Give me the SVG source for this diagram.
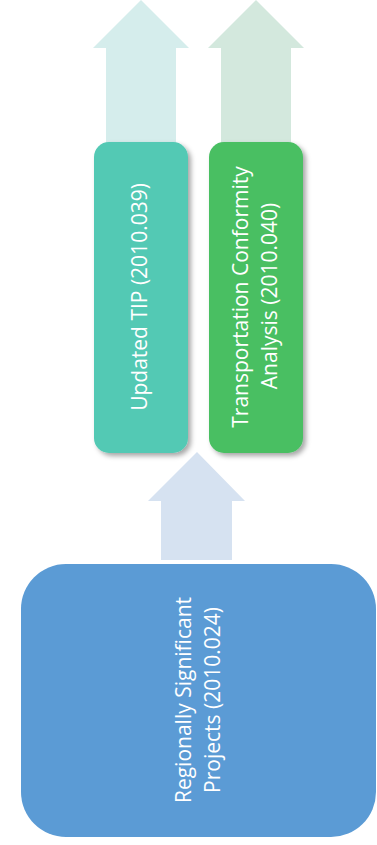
<svg xmlns="http://www.w3.org/2000/svg" width="377" height="845" viewBox="0 0 377 845">
<style>
.lbl{font-family:"Open Sans","Liberation Sans",sans-serif;font-size:21px;fill:#ffffff;text-anchor:middle}
</style>
<defs>
<filter id="sh" x="-20%" y="-10%" width="140%" height="120%">
<feDropShadow dx="3" dy="3" stdDeviation="2.5" flood-color="#000" flood-opacity="0.35"/>
</filter>
</defs>
<rect width="377" height="845" fill="#ffffff"/>
<g id="connectors">
<polygon points="141,0 189,48 176,48 176,150 106,150 106,48 93,48" fill="#D5EDEC"/>
<polygon points="256,0 304,48 291,48 291,150 221,150 221,48 208,48" fill="#D3E8DD"/>
<polygon points="197,452 245,501 232,501 232,560 161,560 161,501 148,501" fill="#D6E2F1"/>
</g>
<g id="tip">
<rect x="94" y="142" width="94" height="311" rx="15" fill="#52C9B4" filter="url(#sh)"/>
<text class="lbl" transform="translate(147,297) rotate(-90)">Updated TIP (2010.039)</text>
</g>
<g id="conformity">
<rect x="209" y="142" width="94" height="311" rx="15" fill="#48BF62" filter="url(#sh)"/>
<text class="lbl" transform="translate(248,297) rotate(-90)">Transportation Conformity</text>
<text class="lbl" transform="translate(277,296) rotate(-90)">Analysis (2010.040)</text>
</g>
<g id="regional">
<rect x="21" y="564" width="355" height="273" rx="45" fill="#5B9BD5"/>
<text class="lbl" transform="translate(191,700) rotate(-90)">Regionally Significant</text>
<text class="lbl" transform="translate(220,700) rotate(-90)">Projects (2010.024)</text>
</g>
</svg>
